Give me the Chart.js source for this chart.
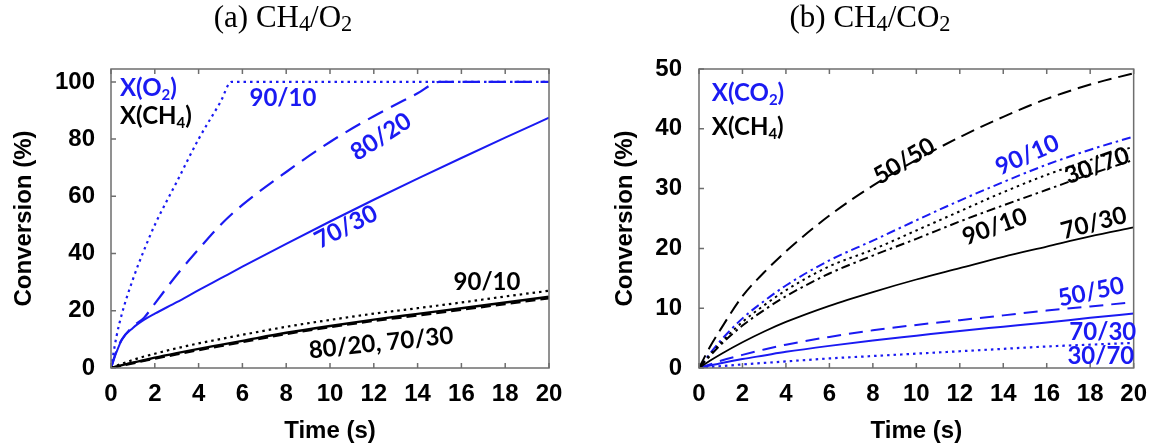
<!DOCTYPE html>
<html>
<head>
<meta charset="utf-8">
<script src="https://cdn.jsdelivr.net/npm/chart.js@4.4.1/dist/chart.umd.min.js"></script>
<style>
  body { margin: 0; background: #fff; }
  #page { position: relative; width: 1159px; height: 447px; overflow: hidden; background: #fff; }
  canvas { position: absolute; top: 0; }
  .panel-title {
    position: absolute; top: -1px;
    font-family: 'Liberation Serif', 'Times New Roman', serif;
    font-size: 31px; line-height: 36px;
    transform: translateX(-50%); white-space: nowrap;
  }
  .panel-title sub { font-size: 72%; vertical-align: -0.18em; line-height: 0; }
</style>
</head>
<body>
<div id="page">
  <canvas id="o2-chart" width="580" height="447" style="left:0"></canvas>
  <canvas id="co2-chart" width="579" height="447" style="left:580px"></canvas>
  <div class="panel-title" style="left:283px">(a) CH<sub>4</sub>/O<sub>2</sub></div>
  <div class="panel-title" style="left:870px">(b) CH<sub>4</sub>/CO<sub>2</sub></div>
</div>
<script>
const blue = '#1a1af2';
const black = '#000000';
const frameGray = '#6e6e6e';

// axis tick values
const timeTicks = [0, 2, 4, 6, 8, 10, 12, 14, 16, 18, 20];
const convTicksA = [0, 20, 40, 60, 80, 100];
const convTicksB = [0, 10, 20, 30, 40, 50];

// (a) CH4/O2 feed ratios
const timeA = [0, 0.25, 0.5, 1, 1.5, 2, 3, 4, 5, 6, 8, 10, 12, 14, 16, 18, 20];
const timeO2_9010 = [0, 0.25, 0.5, 1, 1.5, 2, 3, 4, 5, 5.5, 6, 8, 10, 12, 14, 16, 18, 20];
const convO2_9010 = [0, 11, 19, 31, 41, 50, 65, 80, 93, 100, 100, 100, 100, 100, 100, 100, 100, 100];
const timeO2_8020 = [0, 0.25, 0.5, 1, 1.5, 2, 3, 4, 5, 6, 8, 10, 12, 14, 15, 16, 18, 20];
const convO2_8020 = [0, 6, 10, 14.5, 17.5, 22.5, 32.5, 41.5, 50, 57, 68.5, 79, 88, 96, 100, 100, 100, 100];
const convO2_7030 = [0, 5.5, 10, 14, 16.8, 19, 23, 27.2, 31.3, 35.4, 43.4, 51.2, 58.8, 66.2, 73.4, 80.5, 87.5];
const convCH4a_9010 = [0, 0.8, 1.5, 2.8, 4, 5, 6.9, 8.6, 10.1, 11.6, 14.4, 16.8, 19, 20.9, 22.9, 25, 27];
const convCH4a_8020 = [0, 0.45, 0.9, 1.7, 2.5, 3.3, 4.8, 6.3, 7.7, 9.1, 11.9, 14.3, 16.5, 18.4, 20.4, 22.4, 24.4];
const convCH4a_7030 = [0, 0.5, 1, 1.9, 2.7, 3.6, 5.2, 6.7, 8.1, 9.5, 12.3, 14.7, 16.9, 18.9, 20.9, 22.9, 24.9];

// (b) CH4/CO2 feed ratios
const timeB = [0, 0.5, 1, 2, 3, 4, 6, 8, 10, 12, 14, 16, 18, 20];
const convCH4b_5050 = [0, 3.5, 6.5, 12, 16, 19.5, 25.5, 30.5, 34.8, 38.6, 42, 45, 47.4, 49.3];
const convCO2_9010 = [0, 2.4, 4.6, 8.3, 11.2, 13.8, 18, 21.3, 24.7, 28, 31.1, 34, 36.5, 38.7];
const convCH4b_3070 = [0, 2.2, 4.2, 7.7, 10.5, 13, 17, 19.8, 23, 26.2, 29.4, 32.3, 34.8, 37];
const convCH4b_9010 = [0, 2, 3.9, 7.1, 9.7, 12, 15.8, 18.8, 21.6, 24.5, 27.2, 29.8, 32.4, 34.8];
const convCH4b_7030 = [0, 1.2, 2.3, 4.3, 6.1, 7.7, 10.4, 12.7, 14.8, 16.7, 18.6, 20.3, 22, 23.5];
const convCO2_5050 = [0, 0.6, 1.2, 2.2, 3.1, 3.9, 5.2, 6.3, 7.2, 8, 8.8, 9.6, 10.3, 11];
const convCO2_7030 = [0, 0.4, 0.8, 1.5, 2.1, 2.7, 3.7, 4.6, 5.4, 6.2, 6.9, 7.6, 8.4, 9.1];
const convCO2_3070 = [0, 0.15, 0.3, 0.6, 0.85, 1.1, 1.6, 2, 2.4, 2.8, 3.2, 3.6, 3.9, 4.2];

// curve labels: text (_n = subscript), time, conversion, tilt in degrees
const textA = [
    { text: 'X(O_2)', t: 0.41, v: 97.9, tilt: 0, color: blue, align: 'left' },
    { text: 'X(CH_4)', t: 0.41, v: 88.1, tilt: 0, color: black, align: 'left' },
    { text: '90/10', t: 7.85, v: 94.4, tilt: 0, color: blue },
    { text: '80/20', t: 12.33, v: 80.8, tilt: 33, color: blue },
    { text: '70/30', t: 10.73, v: 49.3, tilt: 27, color: blue },
    { text: '90/10', t: 17.17, v: 30.1, tilt: 0, color: black },
    { text: '80/20, 70/30', t: 12.33, v: 8.7, tilt: 6, color: black }
];
const textB = [
    { text: 'X(CO_2)', t: 0.59, v: 46.0, tilt: 0, color: blue, align: 'left' },
    { text: 'X(CH_4)', t: 0.59, v: 40.3, tilt: 0, color: black, align: 'left' },
    { text: '50/50', t: 9.45, v: 34.6, tilt: 31, color: black },
    { text: '90/10', t: 15.11, v: 35.6, tilt: 24, color: blue },
    { text: '30/70', t: 18.31, v: 33.8, tilt: 20, color: black },
    { text: '90/10', t: 13.61, v: 23.6, tilt: 20, color: black },
    { text: '70/30', t: 18.17, v: 24.2, tilt: 15, color: black },
    { text: '50/50', t: 18.04, v: 12.7, tilt: 12, color: blue },
    { text: '70/30', t: 18.58, v: 6.0, tilt: 0, color: blue },
    { text: '30/70', t: 18.49, v: 2.0, tilt: 0, color: blue }
];

const pairs = (xs, ys) => ys.map((y, i) => ({ x: xs[i], y: y }));

function line(label, times, values, color, dash, width) {
    return {
        label: label,
        data: pairs(times, values),
        borderColor: color,
        borderWidth: width || 2,
        borderDash: dash,
        pointRadius: 0,
        fill: false,
        cubicInterpolationMode: 'monotone'
    };
}

const dotted = [2.5, 4];
const dashed = [17, 9];
const dashDot = [9, 4, 2.5, 4];

// box around the plot with inward ticks on left, top and bottom
const framePlugin = {
    id: 'frame',
    afterDatasetsDraw(chart) {
        const ctx = chart.ctx;
        const a = chart.chartArea;
        const x = chart.scales.x, y = chart.scales.y;
        ctx.save();
        ctx.strokeStyle = frameGray;
        ctx.lineWidth = 1.5;
        ctx.strokeRect(a.left, a.top, a.right - a.left, a.bottom - a.top);
        ctx.beginPath();
        x.ticks.forEach(t => {
            const px = x.getPixelForValue(t.value);
            ctx.moveTo(px, a.bottom); ctx.lineTo(px, a.bottom - 5);
            ctx.moveTo(px, a.top); ctx.lineTo(px, a.top + 5);
        });
        y.ticks.forEach(t => {
            const py = y.getPixelForValue(t.value);
            ctx.moveTo(a.left, py); ctx.lineTo(a.left + 5, py);
        });
        ctx.stroke();
        ctx.restore();
    }
};

// text with single-digit subscripts written as _n
function drawRich(ctx, text, size, align) {
    const parts = text.split(/_(\d)/);
    const mainFont = 'bold ' + size + 'px Lato, sans-serif';
    const subFont = 'bold ' + Math.round(size * 0.62) + 'px Lato, sans-serif';
    let total = 0;
    parts.forEach((p, i) => { ctx.font = i % 2 ? subFont : mainFont; total += ctx.measureText(p).width; });
    let cx = align === 'left' ? 0 : -total / 2;
    parts.forEach((p, i) => {
        ctx.font = i % 2 ? subFont : mainFont;
        ctx.fillText(p, cx, i % 2 ? size * 0.3 : 0);
        cx += ctx.measureText(p).width;
    });
}

function curveLabels(items) {
    return {
        id: 'curveLabels',
        afterDraw(chart) {
            const ctx = chart.ctx;
            const x = chart.scales.x, y = chart.scales.y;
            items.forEach(item => {
                ctx.save();
                ctx.translate(x.getPixelForValue(item.t), y.getPixelForValue(item.v));
                ctx.rotate(-item.tilt * Math.PI / 180);
                ctx.fillStyle = item.color;
                ctx.textAlign = 'left';
                ctx.textBaseline = 'middle';
                drawRich(ctx, item.text, 24, item.align);
                ctx.restore();
            });
        }
    };
}

Chart.defaults.font.family = "'Liberation Sans', Arial, sans-serif";
Chart.defaults.color = '#000';

function panelOptions(yMax, yTicks, yWidth, yLabelPad, yTitlePad, padRight) {
    const axisFont = { size: 24, weight: 'bold' };
    return {
        responsive: false,
        animation: false,
        layout: { padding: { top: 69, right: padRight, left: 0, bottom: 0 } },
        plugins: { legend: { display: false }, tooltip: { enabled: false } },
        scales: {
            x: {
                type: 'linear',
                min: 0,
                max: 20,
                grid: { display: false, drawTicks: false },
                border: { display: false },
                ticks: { font: axisFont, color: '#000', padding: 12, maxRotation: 0 },
                title: { display: true, text: 'Time (s)', font: axisFont, color: '#000', padding: { top: 0, bottom: 1 } },
                afterBuildTicks: scale => { scale.ticks = timeTicks.map(v => ({ value: v })); },
                afterFit: scale => { scale.height = 79; }
            },
            y: {
                min: 0,
                max: yMax,
                grid: { display: false, drawTicks: false },
                border: { display: false },
                ticks: { font: axisFont, color: '#000', padding: yLabelPad },
                title: { display: true, text: 'Conversion (%)', font: axisFont, color: '#000', padding: { top: yTitlePad, bottom: 0 } },
                afterBuildTicks: scale => { scale.ticks = yTicks.map(v => ({ value: v })); },
                afterFit: scale => { scale.width = yWidth; }
            }
        }
    };
}

new Chart(document.getElementById('o2-chart'), {
    type: 'line',
    data: {
        datasets: [
            line('CH4 90/10', timeA, convCH4a_9010, black, dotted, 2.2),
            line('CH4 80/20', timeA, convCH4a_8020, black, [10, 5], 2.6),
            line('CH4 70/30', timeA, convCH4a_7030, black, [], 2.4),
            line('O2 90/10', timeO2_9010, convO2_9010, blue, dotted, 2.2),
            line('O2 70/30', timeA, convO2_7030, blue, [], 2),
            line('O2 80/20', timeO2_8020, convO2_8020, blue, dashed, 2.2)
        ]
    },
    options: panelOptions(104.5, convTicksA, 111, 16, 10, 31),
    plugins: [framePlugin, curveLabels(textA)]
});

new Chart(document.getElementById('co2-chart'), {
    type: 'line',
    data: {
        datasets: [
            line('CH4 50/50', timeB, convCH4b_5050, black, [14, 7], 2),
            line('CH4 30/70', timeB, convCH4b_3070, black, dotted, 2),
            line('CH4 90/10', timeB, convCH4b_9010, black, dashDot, 2),
            line('CH4 70/30', timeB, convCH4b_7030, black, [], 1.8),
            line('CO2 90/10', timeB, convCO2_9010, blue, dashDot, 2),
            line('CO2 50/50', timeB, convCO2_5050, blue, [14, 8], 2),
            line('CO2 70/30', timeB, convCO2_7030, blue, [], 2),
            line('CO2 30/70', timeB, convCO2_3070, blue, dotted, 2.2)
        ]
    },
    options: panelOptions(50, convTicksB, 119, 17, 31, 22),
    plugins: [framePlugin, curveLabels(textB)]
});
</script>
</body>
</html>
